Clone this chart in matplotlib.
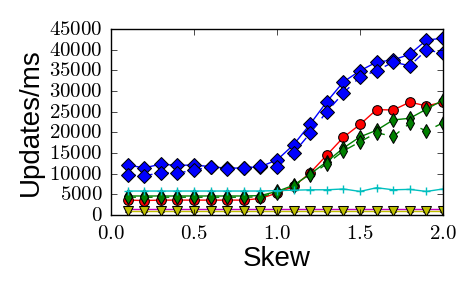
import matplotlib
matplotlib.use("Agg")
import matplotlib.pyplot as plt
from matplotlib.ticker import FuncFormatter

plt.style.use('classic')
plt.rcParams['mathtext.fontset'] = 'cm'
plt.rcParams['figure.facecolor'] = 'white'
plt.rcParams['savefig.facecolor'] = 'white'

skew = [0.1, 0.2, 0.3, 0.4, 0.5, 0.6, 0.7, 0.8, 0.9, 1.0,
        1.1, 1.2, 1.3, 1.4, 1.5, 1.6, 1.7, 1.8, 1.9, 2.0]

blue_solid = [12100, 11400, 12300, 12000, 12100, 11700, 11300, 11400, 11700, 13300,
              17000, 22000, 27400, 32200, 34900, 37000, 37500, 38900, 42300, 42800]
blue_dashed = [9700, 9500, 10200, 10100, 10900, 11600, 11200, 11300, 11900, 11700,
               15000, 19800, 25000, 29500, 33400, 34900, 37000, 36100, 39900, 39200]
red = [3600, 3500, 3600, 3600, 3600, 3600, 3600, 3600, 4000, 5300,
       6900, 10200, 14500, 18800, 21900, 25500, 25400, 27300, 26400, 27300]
green_solid = [4600, 4600, 4600, 4600, 4600, 4600, 4600, 4600, 4700, 5700,
               7200, 9900, 12900, 16200, 18900, 20500, 23000, 23400, 25600, 27800]
green_dashed = [4300, 4300, 4300, 4300, 4300, 4300, 4300, 4300, 4400, 5400,
                7000, 9600, 12400, 15500, 17700, 19900, 19000, 22200, 20300, 22300]
cyan = [5800, 5800, 5800, 5800, 5800, 5800, 5800, 5800, 5800, 5900,
        6000, 6100, 6100, 6300, 5700, 6600, 6100, 6200, 5700, 6300]
magenta = [1500] * 20
yellow = [900] * 20

xticks = [0.0, 0.5, 1.0, 1.5, 2.0]
yticks = [0, 5000, 10000, 15000, 20000, 25000, 30000, 35000, 40000, 45000]

fig = plt.figure(figsize=(4.75, 2.93), dpi=100)
ax = fig.add_axes([111/475, 1 - 215/293, 332/475, 186/293])

ax.plot(skew, blue_solid, '-', color='b', marker='D', mec='k', mew=0.75, ms=7)
ax.plot(skew, blue_dashed, '--', color='b', marker='D', mec='k', mew=0.75, ms=7)
ax.plot(skew, red, '-', color='r', marker='o', mec='k', mew=0.75, ms=7)
ax.plot(skew, green_solid, '-', color='g', marker='d', mec='k', mew=0.75, ms=7)
ax.plot(skew, green_dashed, '--', color='g', marker='d', mec='k', mew=0.75, ms=7)
ax.plot(skew, cyan, '-', color='c', marker='+', mec='c', mew=1.0, ms=6)
ax.plot(skew, magenta, '-', color='m', marker='^', mfc=(0.5, 0, 0.5), mec='k', mew=0.5, ms=5)
ax.plot(skew, yellow, '-', color='y', marker='v', mec='k', mew=0.75, ms=7)

ax.set_xlim(0, 2.0)
ax.set_ylim(0, 45000)
ax.set_xticks(xticks)
ax.set_yticks(yticks)
ax.xaxis.set_major_formatter(FuncFormatter(lambda v, p: r'$%.1f$' % v))
ax.yaxis.set_major_formatter(FuncFormatter(lambda v, p: r'$%d$' % int(round(v))))
ax.tick_params(axis='both', which='major', labelsize=15, pad=6)

ax.set_xlabel('Skew', fontsize=20, family='Liberation Sans', labelpad=2)
ax.set_ylabel('Updates/ms', fontsize=20, family='Liberation Sans', labelpad=4)

fig.savefig('out.png', dpi=100)
